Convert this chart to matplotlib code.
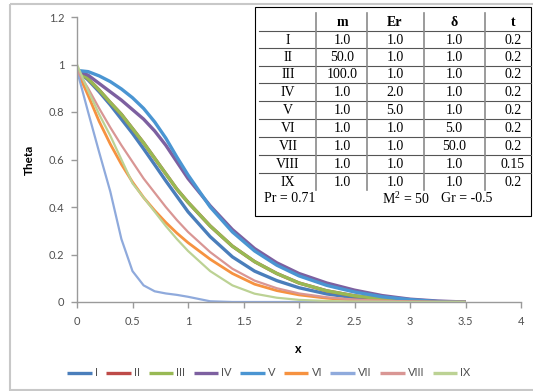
import matplotlib
matplotlib.use("Agg")
import matplotlib.pyplot as plt
from matplotlib.patches import Rectangle
from matplotlib.ticker import FormatStrFormatter

plt.rcParams["mathtext.fontset"] = "custom"
plt.rcParams["mathtext.rm"] = "Liberation Serif"

# data
x = [0, 0.1, 0.2, 0.3, 0.4, 0.5, 0.6, 0.7, 0.8, 0.9, 1.0, 1.2, 1.4, 1.6, 1.8, 2.0, 2.25, 2.5, 2.75, 3.0, 3.25, 3.5]

theta_I = [0.975, 0.935, 0.885, 0.83, 0.77, 0.71, 0.645, 0.578, 0.51, 0.445, 0.38, 0.275, 0.19, 0.13, 0.09, 0.06, 0.034, 0.018, 0.008, 0.003, 0.0, 0.0]
theta_II = [0.975, 0.94, 0.892, 0.84, 0.79, 0.73, 0.67, 0.605, 0.54, 0.475, 0.42, 0.32, 0.235, 0.17, 0.12, 0.08, 0.047, 0.026, 0.013, 0.006, 0.001, 0.0]
theta_III = [0.975, 0.94, 0.892, 0.84, 0.79, 0.73, 0.67, 0.605, 0.54, 0.475, 0.42, 0.32, 0.235, 0.17, 0.12, 0.08, 0.047, 0.026, 0.013, 0.006, 0.001, 0.0]
theta_IV = [0.975, 0.955, 0.92, 0.885, 0.85, 0.81, 0.77, 0.72, 0.66, 0.59, 0.52, 0.405, 0.305, 0.225, 0.165, 0.12, 0.08, 0.05, 0.027, 0.012, 0.004, 0.0]
theta_V = [0.975, 0.97, 0.952, 0.928, 0.897, 0.86, 0.815, 0.758, 0.69, 0.61, 0.535, 0.4, 0.295, 0.215, 0.155, 0.11, 0.07, 0.042, 0.022, 0.01, 0.002, 0.0]
theta_VI = [0.975, 0.87, 0.76, 0.665, 0.58, 0.505, 0.44, 0.385, 0.335, 0.29, 0.25, 0.18, 0.12, 0.075, 0.048, 0.03, 0.016, 0.008, 0.004, 0.001, 0.0, 0.0]
theta_VII = [0.975, 0.8, 0.63, 0.465, 0.265, 0.13, 0.07, 0.045, 0.036, 0.03, 0.022, 0.003, 0.0, 0.0, 0.0, 0.0, 0.0, 0.0, 0.0, 0.0, 0.0, 0.0]
theta_VIII = [0.975, 0.9, 0.815, 0.735, 0.66, 0.59, 0.52, 0.46, 0.4, 0.345, 0.295, 0.21, 0.14, 0.09, 0.058, 0.036, 0.02, 0.01, 0.005, 0.002, 0.0, 0.0]
theta_IX = [1.0, 0.89, 0.79, 0.7, 0.6, 0.5, 0.44, 0.38, 0.32, 0.265, 0.215, 0.13, 0.07, 0.035, 0.018, 0.009, 0.004, 0.002, 0.001, 0.0, 0.0, 0.0]

labels = ["I", "II", "III", "IV", "V", "VI", "VII", "VIII", "IX"]
series = [theta_I, theta_II, theta_III, theta_IV, theta_V, theta_VI, theta_VII, theta_VIII, theta_IX]
colors = ["#4A7EBB", "#BE4B48", "#98B954", "#7D60A0", "#4A95D2", "#F69240", "#8FAADC", "#D99694", "#BCD294"]
widths = [2.4, 2.4, 2.4, 2.4, 2.4, 2.0, 1.6, 1.6, 1.6]

# parameter table
col_heads = ["m", "Er", "δ", "t"]
m_vals = ["1.0", "50.0", "100.0", "1.0", "1.0", "1.0", "1.0", "1.0", "1.0"]
er_vals = ["1.0", "1.0", "1.0", "2.0", "5.0", "1.0", "1.0", "1.0", "1.0"]
delta_vals = ["1.0", "1.0", "1.0", "1.0", "1.0", "5.0", "50.0", "1.0", "1.0"]
t_vals = ["0.2", "0.2", "0.2", "0.2", "0.2", "0.2", "0.2", "0.15", "0.2"]
footer = ["Pr = 0.71", "M$^2$ = 50", "Gr = -0.5"]

W, H = 533, 391
fig = plt.figure(figsize=(W / 100, H / 100), dpi=100)
ax = fig.add_axes([77 / W, 1 - 302 / H, 444 / W, 285 / H])

for lab, y, c, lw in zip(labels, series, colors, widths):
    ax.plot(x, y, color=c, lw=lw, label=lab, solid_capstyle="butt")

ax.set_xlim(0, 4)
ax.set_ylim(0, 1.2)
ax.set_xticks([0, 0.5, 1, 1.5, 2, 2.5, 3, 3.5, 4])
ax.set_yticks([0, 0.2, 0.4, 0.6, 0.8, 1.0, 1.2])
ax.xaxis.set_major_formatter(FormatStrFormatter("%g"))
ax.yaxis.set_major_formatter(FormatStrFormatter("%g"))
for s in ["top", "right"]:
    ax.spines[s].set_visible(False)
for s in ["left", "bottom"]:
    ax.spines[s].set_color("#9A9A9A")
    ax.spines[s].set_linewidth(1.0)
ax.tick_params(length=4, width=1, color="#9A9A9A", labelsize=8, labelcolor="#505050")
ax.tick_params(axis="x", pad=6)
ax.tick_params(axis="y", pad=5)
for t in ax.get_xticklabels() + ax.get_yticklabels():
    t.set_family("Lato")

ax.set_ylabel("Theta", fontsize=8.5, fontweight="bold", family="Lato")
ax.yaxis.set_label_coords(-0.095, 0.5)
ax.set_xlabel("x", fontsize=9, fontweight="bold", family="Lato")
ax.xaxis.set_label_coords(0.498, -0.145)

leg = fig.legend(loc="center", bbox_to_anchor=(269 / W, 1 - 373 / H), ncol=9, frameon=False,
                 handlelength=2.2, handletextpad=0.3, columnspacing=0.75,
                 prop={"family": "Lato", "size": 8})
for t in leg.get_texts():
    t.set_color("#505050")
for ln in leg.get_lines():
    ln.set_linewidth(2.4)

# overlay in pixel coordinates for the chart border and the table
ov = fig.add_axes([0, 0, 1, 1], zorder=5)
ov.set_xlim(0, W)
ov.set_ylim(H, 0)
ov.axis("off")
ov.patch.set_alpha(0)

ov.add_patch(Rectangle((9.5, 4), 540, 386, fill=False, ec="#C8C8C8", lw=1.5))
ov.add_patch(Rectangle((255, 7), 276, 209, fc="white", ec="black", lw=0.8))

row_lines = [30.7, 48.3, 66, 83.3, 101, 119, 136.7, 155, 172.7]
for yl in row_lines:
    ov.plot([259, 531], [yl, yl], color="#555555", lw=0.8)
for xl in [316, 367, 424, 485]:
    ov.plot([xl, xl], [13, 190], color="#8A8A8A", lw=1.2)

col_x = [342, 395, 454, 513]
serif = "Liberation Serif"
for cx, h in zip(col_x, col_heads):
    ov.text(cx, 22, h, ha="center", va="center", family=serif, fontsize=10, fontweight="bold")
row_y = [40, 57.5, 75, 92.5, 110.5, 128, 146, 164, 182]
for i, ry in enumerate(row_y):
    ov.text(288, ry, labels[i], ha="center", va="center", family=serif, fontsize=10)
    for cx, vals in zip(col_x, [m_vals, er_vals, delta_vals, t_vals]):
        ov.text(cx, ry, vals[i], ha="center", va="center", family=serif, fontsize=10)
for fx, ft in zip([264, 382, 441], footer):
    ov.text(fx, 199, ft, ha="left", va="center", family=serif, fontsize=10)

fig.savefig("out.png", dpi=100)
